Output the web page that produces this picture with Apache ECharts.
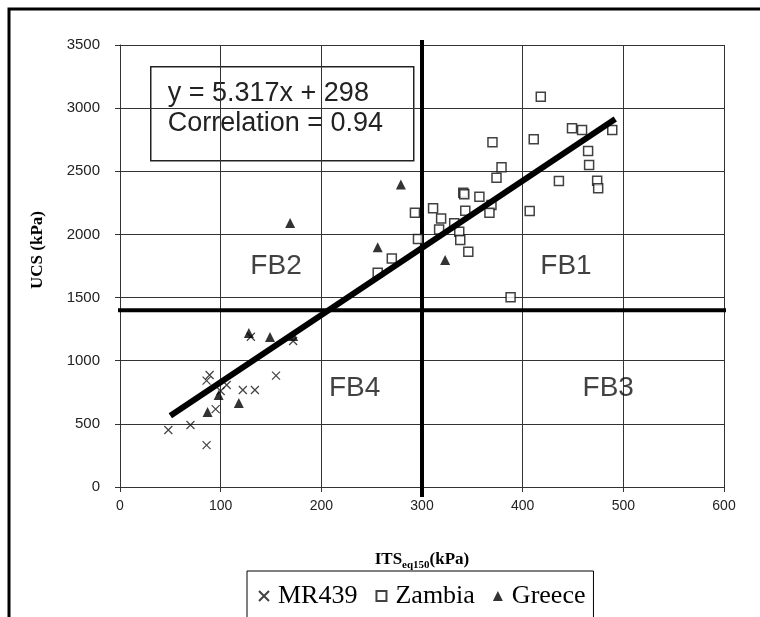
<!DOCTYPE html>
<html>
<head>
<meta charset="utf-8">
<script src="https://cdn.jsdelivr.net/npm/echarts@6/dist/echarts.min.js"></script>
<style>
  html, body { margin: 0; padding: 0; background: #fff; }
  #chart { width: 760px; height: 617px; }
</style>
</head>
<body>
<div id="chart"></div>
<script>
// UCS vs ITS(eq150) for three material groups, with the fitted trend and FB zones.
const xTicks = [0, 100, 200, 300, 400, 500, 600];
const yTicks = [0, 500, 1000, 1500, 2000, 2500, 3000, 3500];

const mr439 = [
  [89, 887], [86, 842], [106, 808], [122, 768], [134, 768], [155, 882],
  [95, 617], [48, 451], [70, 491], [86, 332], [130, 1190], [172, 1156],
  [100, 760]
];

const zambia = [
  [418, 3090], [449, 2840], [459, 2827], [489, 2827], [411, 2753], [370, 2729],
  [465, 2660], [466, 2550], [379, 2531], [374, 2449], [436, 2423], [474, 2425],
  [475, 2365], [341, 2330], [342, 2318], [357, 2298], [369, 2233], [367, 2172],
  [343, 2188], [311, 2207], [293, 2172], [319, 2127], [407, 2185], [317, 2040],
  [332, 2088], [337, 2021], [338, 1955], [346, 1863], [296, 1963], [270, 1810],
  [388, 1502], [256, 1697]
];

const greece = [
  [169, 2090], [279, 2395], [256, 1898], [323, 1797], [98, 728], [87, 594],
  [118, 665], [128, 1219], [149, 1188], [172, 1196]
];

// Fitted relation as printed on the chart, drawn between its end abscissas
const trendSlope = 5.317;
const trendIntercept = 298;
const trendEnds = [50, 492];

// Zone boundaries
const itsLimit = 300;
const ucsLimit = 1400;
const itsSpan = [-17, 606];
const ucsSpan = [-80, 3540];

const zoneLabels = [
  { name: 'FB1', value: [443, 1745] },
  { name: 'FB2', value: [155, 1750] },
  { name: 'FB3', value: [485, 784] },
  { name: 'FB4', value: [233, 784] }
];

const crossPath = 'path://M0,0L10,10M10,0L0,10';

const chart = echarts.init(document.getElementById('chart'), null, { renderer: 'canvas' });

const serif = "'Liberation Serif', 'Times New Roman', serif";
const sans = "'Liberation Sans', Arial, sans-serif";

chart.setOption({
  animation: false,
  backgroundColor: '#fff',
  grid: { left: 120, top: 45, right: 36, bottom: 130 },
  xAxis: {
    type: 'value', min: 0, max: 600, interval: 100,
    name: '{a|ITS}{b|eq150}{a|(kPa)}',
    nameLocation: 'middle', nameGap: 62,
    nameTextStyle: {
      rich: {
        a: { fontFamily: serif, fontWeight: 'bold', fontSize: 17, color: '#000', lineHeight: 22, verticalAlign: 'middle' },
        b: { fontFamily: serif, fontWeight: 'bold', fontSize: 11, color: '#000', lineHeight: 22, verticalAlign: 'bottom' }
      }
    },
    axisLine: { show: true, lineStyle: { color: '#333', width: 1 } },
    axisTick: { show: true, inside: false, length: 5, lineStyle: { color: '#333' } },
    axisLabel: {
      margin: 12, fontFamily: sans, fontSize: 14, color: '#222',
      formatter: v => xTicks.includes(v) ? String(v) : ''
    },
    splitLine: { show: true, lineStyle: { color: '#333', width: 1 } }
  },
  yAxis: {
    type: 'value', min: 0, max: 3500, interval: 500,
    axisLine: { show: true, lineStyle: { color: '#333', width: 1 } },
    axisTick: { show: true, inside: false, length: 5, lineStyle: { color: '#333' } },
    axisLabel: {
      margin: 20, fontFamily: sans, fontSize: 15, color: '#222',
      formatter: v => yTicks.includes(v) ? String(v) : ''
    },
    splitLine: { show: true, lineStyle: { color: '#333', width: 1 } }
  },
  legend: {
    data: ['MR439', 'Zambia', 'Greece'],
    left: 247, top: 571,
    orient: 'horizontal',
    itemWidth: 10, itemHeight: 10, itemGap: 18,
    padding: [12, 8, 14, 11],
    borderColor: '#000', borderWidth: 1,
    textStyle: { fontFamily: serif, fontSize: 26, color: '#000', padding: [0, 0, 0, 4] }
  },
  series: [
    {
      name: 'ITS limit', type: 'line', clip: false, silent: true, symbol: 'none',
      lineStyle: { color: '#000', width: 4 }, z: 3,
      data: [[itsLimit, ucsSpan[0]], [itsLimit, ucsSpan[1]]]
    },
    {
      name: 'UCS limit', type: 'line', clip: false, silent: true, symbol: 'none',
      lineStyle: { color: '#000', width: 4 }, z: 3,
      data: [[itsSpan[0], ucsLimit], [itsSpan[1], ucsLimit]]
    },
    {
      name: 'MR439', type: 'scatter', symbol: crossPath, symbolSize: 8,
      itemStyle: { color: 'rgba(0,0,0,0)', borderColor: '#111', borderWidth: 1.2 },
      data: mr439, z: 4
    },
    {
      name: 'Zambia', type: 'scatter', symbol: 'rect', symbolSize: 9,
      itemStyle: { color: '#fff', borderColor: '#111', borderWidth: 1.5 },
      data: zambia, z: 4
    },
    {
      name: 'Greece', type: 'scatter', symbol: 'triangle', symbolSize: 10,
      itemStyle: { color: '#000' },
      data: greece, z: 4
    },
    {
      name: 'Trend', type: 'line', symbol: 'none', silent: true, z: 5,
      lineStyle: { color: '#000', width: 6 },
      data: trendEnds.map(x => [x, trendSlope * x + trendIntercept])
    },
    {
      name: 'Zones', type: 'scatter', symbolSize: 0, silent: true, z: 6,
      label: {
        show: true, position: 'inside', formatter: p => p.name,
        fontFamily: sans, fontSize: 28, color: '#111'
      },
      data: zoneLabels
    }
  ],
  graphic: [
    {
      type: 'polyline', silent: true, z: 10,
      shape: { points: [[9, 617], [9, 9], [760, 9]] },
      style: { stroke: '#000', lineWidth: 3, fill: null }
    },
    {
      type: 'text', silent: true, z: 10,
      x: 38, y: 250, rotation: Math.PI / 2,
      style: {
        text: 'UCS (kPa)', font: "bold 17px 'Liberation Serif', 'Times New Roman', serif",
        fill: '#000', align: 'center', verticalAlign: 'middle'
      }
    },
    {
      type: 'group', left: 150, top: 66, z: 10,
      children: [
        { type: 'rect', shape: { x: 0, y: 0, width: 263, height: 94 },
          style: { fill: '#fff', stroke: '#222', lineWidth: 1.5 } },
        { type: 'text', left: 17, top: 13,
          style: { text: 'y = ' + trendSlope + 'x + ' + trendIntercept, font: "27px 'Liberation Sans', Arial, sans-serif", fill: '#222' } },
        { type: 'text', left: 17, top: 43,
          style: { text: 'Correlation = 0.94', font: "27px 'Liberation Sans', Arial, sans-serif", fill: '#222' } }
      ]
    }
  ]
});
</script>
</body>
</html>
